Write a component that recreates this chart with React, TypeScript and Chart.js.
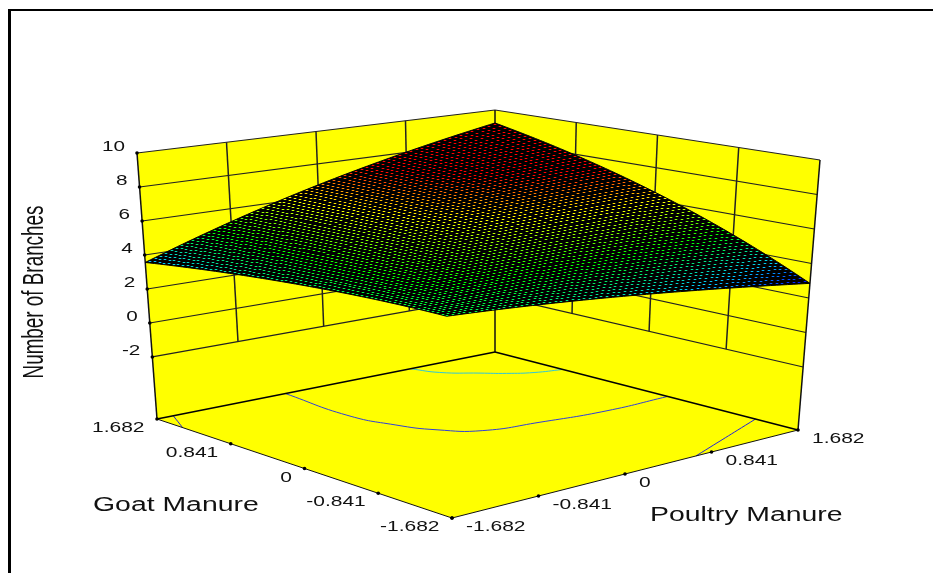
import React, { useEffect, useRef } from "react";
import { Chart, registerables } from "chart.js";

Chart.register(...registerables);

// ---- data ----
const codedTicks = [-1.682, -0.841, 0, 0.841, 1.682];
const codedTickLabels = ["-1.682", "-0.841", "0", "0.841", "1.682"];
const zTicks = [-2, 0, 2, 4, 6, 8, 10];
const zMin = -5.65;
const zMax = 10;

// response values: rows = Goat Manure (-1.682 .. 1.682), columns = Poultry Manure (-1.682 .. 1.682)
const branchesG0 = [4.6, 4.37, 4.0, 3.49, 2.85];
const branchesG1 = [4.59, 4.99, 5.16, 5.1, 4.8];
const branchesG2 = [4.41, 5.34, 6.0, 6.39, 6.5];
const branchesG3 = [4.07, 5.42, 6.52, 7.36, 7.95];
const branchesG4 = [3.56, 5.22, 6.71, 8.02, 9.16];
const branches = [branchesG0, branchesG1, branchesG2, branchesG3, branchesG4];

// floor contours as [goat, poultry]
const contourLeft = [[1.682, -1.52], [1.39, -1.682]];
const contourRight = [[-1.21, 1.682], [-1.682, 0.69]];
const contourMid: number[][] = [
  [1.682, -0.404], [0.925, -0.459], [0.491, -0.363], [0.185, -0.217], [-0.054, 0.025], [-0.155, 0.498], [-0.242, 1.08], [-0.235, 1.682],
];
const contourBack: number[][] = [
  [1.682, 0.84], [1.457, 0.932], [1.25, 1.147], [1.114, 1.29], [1.0, 1.46], [0.929, 1.682],
];

const colorStopZ = [2.85, 3.7, 4.9, 6.2, 7.4];
const colorStopRGB = [[0, 0, 255], [0, 200, 255], [0, 255, 0], [255, 255, 0], [255, 0, 0]];

// ---- 3D box seen by the camera (plot units of the hidden linear scales) ----
const floorFront = [452, 518];
const floorLeft = [157, 419];
const floorRight = [798, 430];
const floorBack = [495, 352];
const topFront = [444, 210];
const topLeft = [137, 153];
const topRight = [820, 160];
const topBack = [495, 110];

const unit = (c: number) => (c + 1.682) / 3.364;
const mix = (p00: number[], p10: number[], p01: number[], p11: number[], a: number, b: number, k: number) =>
  p00[k] * (1 - a) * (1 - b) + p10[k] * a * (1 - b) + p01[k] * (1 - a) * b + p11[k] * a * b;

function project(goat: number, poultry: number, z: number) {
  const a = unit(goat);
  const b = unit(poultry);
  const t = (z - zMin) / (zMax - zMin);
  const f = [0, 1].map((k) => mix(floorFront, floorLeft, floorRight, floorBack, a, b, k));
  const u = [0, 1].map((k) => mix(topFront, topLeft, topRight, topBack, a, b, k));
  return { x: f[0] + (u[0] - f[0]) * t, y: f[1] + (u[1] - f[1]) * t };
}

function lagrange(values: number[], c: number) {
  let s = 0;
  for (let i = 0; i < 5; i++) {
    let w = 1;
    for (let j = 0; j < 5; j++) if (j !== i) w *= (c - codedTicks[j]) / (codedTicks[i] - codedTicks[j]);
    s += w * values[i];
  }
  return s;
}
const surfaceZ = (g: number, p: number) => lagrange(branches.map((row) => lagrange(row, p)), g);

function rgbFor(z: number) {
  const s = colorStopZ;
  if (z <= s[0]) return colorStopRGB[0];
  for (let i = 1; i < s.length; i++) {
    if (z <= s[i]) {
      const f = (z - s[i - 1]) / (s[i] - s[i - 1]);
      return colorStopRGB[i - 1].map((v, k) => Math.round(v + (colorStopRGB[i][k] - v) * f));
    }
  }
  return colorStopRGB[4];
}

const MESH = 64;
const C0 = codedTicks[0];
const C4 = codedTicks[4];
const meshCoord = (i: number) => C0 + ((C4 - C0) * i) / MESH;

function buildDatasets() {
  const yellow = "#ffff00";
  const ds: any[] = [];
  const poly = (pts: { x: number; y: number }[], fill: string, line = "#000", w = 0) =>
    ds.push({
      data: [...pts, pts[0]],
      fill: "shape",
      backgroundColor: fill,
      borderColor: line,
      borderWidth: w,
      pointRadius: 0,
      showLine: true,
      tension: 0,
      clip: false,
    });
  const line = (pts: { x: number; y: number }[], w = 1, color = "#222") =>
    ds.push({
      data: pts,
      borderColor: color,
      borderWidth: w,
      pointRadius: 0,
      showLine: true,
      fill: false,
      tension: 0,
      clip: false,
    });

  // frame of the picture
  line([{ x: 933, y: 10 }, { x: 8, y: 10 }], 2, "#000");
  line([{ x: 9.5, y: 9 }, { x: 9.5, y: 573 }], 3, "#000");

  // walls and floor
  const g0 = C0;
  const g1 = C4;
  poly([project(g1, C0, zMin), project(g1, C4, zMin), project(g1, C4, zMax), project(g1, C0, zMax)], yellow);
  poly([project(g0, C4, zMin), project(g1, C4, zMin), project(g1, C4, zMax), project(g0, C4, zMax)], yellow);
  poly([project(g0, C0, zMin), project(g1, C0, zMin), project(g1, C4, zMin), project(g0, C4, zMin)], yellow);

  // wall grid
  for (const z of zTicks) {
    line([project(g1, C0, z), project(g1, C4, z)], 1.2, "#222");
    line([project(g0, C4, z), project(g1, C4, z)], 1.2, "#222");
  }
  for (const c of codedTicks.slice(1, 4)) {
    line([project(g1, c, -2), project(g1, c, 10)], 1.5, "#222");
    line([project(c, C4, -2), project(c, C4, 10)], 1.5, "#222");
  }
  // floor contours
  const contour = (arr: number[][], color: string) =>
    ds.push({
      data: arr.map(([g, p]) => project(g, p, zMin)),
      borderColor: color,
      borderWidth: 1,
      pointRadius: 0,
      showLine: true,
      fill: false,
      tension: 0.5,
      clip: false,
    });
  contour(contourLeft, "#2222dd");
  contour(contourRight, "#2222dd");
  contour(contourMid, "#3040d8");
  contour(contourBack, "#30c8d8");

  // box edges
  line([project(g1, C0, zMin), project(g1, C0, zMax)], 1.5, "#111");
  line([project(g0, C4, zMin), project(g0, C4, zMax)], 1.5, "#111");
  line([project(g1, C4, zMin), project(g1, C4, zMax)], 1.5, "#111");
  line([project(g1, C0, zMin), project(g1, C4, zMin)], 1.6, "#000");
  line([project(g0, C4, zMin), project(g1, C4, zMin)], 1.6, "#000");
  line([project(g1, C0, zMin), project(g0, C0, zMin)], 1, "#111");
  line([project(g0, C0, zMin), project(g0, C4, zMin)], 1, "#111");

  // response surface: dark body
  const edge: { x: number; y: number }[] = [];
  for (let i = 0; i <= MESH; i++) edge.push(project(meshCoord(i), C0, surfaceZ(meshCoord(i), C0)));
  for (let i = 0; i <= MESH; i++) edge.push(project(C4, meshCoord(i), surfaceZ(C4, meshCoord(i))));
  for (let i = MESH; i >= 0; i--) edge.push(project(meshCoord(i), C4, surfaceZ(meshCoord(i), C4)));
  for (let i = MESH; i >= 0; i--) edge.push(project(C0, meshCoord(i), surfaceZ(C0, meshCoord(i))));
  poly(edge, "#000", "#000", 1);

  // coloured facets: a dim tint under a bright core
  const pts: { x: number; y: number }[] = [];
  const cols: string[] = [];
  const tints: string[] = [];
  for (let i = 0; i < MESH; i++) {
    for (let j = 0; j < MESH; j++) {
      const g = meshCoord(i + 0.5);
      const p = meshCoord(j + 0.5);
      const z = surfaceZ(g, p);
      const q = project(g, p, z);
      pts.push({ x: Math.round(q.x), y: Math.floor(q.y) + 0.5 });
      const c = rgbFor(z).join(",");
      cols.push(`rgb(${c})`);
      // dim tint stays inside the facet: black mixed with the colour
      const dim = rgbFor(z).map((v) => Math.round(v * 0.3)).join(",");
      tints.push(`rgb(${dim})`);
    }
  }
  ds.push({
    data: pts,
    showLine: false,
    pointStyle: "line",
    pointRadius: 2,
    pointBorderWidth: 1,
    pointBorderColor: tints,
    pointBackgroundColor: tints,
    clip: false,
  });
  ds.push({
    data: pts,
    showLine: false,
    pointStyle: "line",
    pointRadius: 1,
    pointBorderWidth: 1,
    pointBorderColor: cols,
    pointBackgroundColor: cols,
    clip: false,
  });

  // axis tick marks
  const tickPts = [
    ...codedTicks.map((c) => project(c, C0, zMin)),
    ...codedTicks.map((c) => project(C0, c, zMin)),
    ...zTicks.map((z) => project(C4, C0, z)),
  ];
  ds.push({
    data: tickPts,
    showLine: false,
    pointStyle: "circle",
    pointRadius: 1.8,
    pointBackgroundColor: "#000",
    pointBorderWidth: 0,
    clip: false,
  });
  // Chart.js paints the first dataset last
  return ds.reverse();
}

const labelFont = "Liberation Sans, Arial, sans-serif";

function stretched(ctx: CanvasRenderingContext2D, text: string, x: number, y: number, size: number, sx: number, align: CanvasTextAlign, rot = 0, sy = 1) {
  ctx.save();
  ctx.translate(x, y);
  if (rot) ctx.rotate(rot);
  ctx.scale(sx, sy);
  ctx.font = `${size}px ${labelFont}`;
  ctx.textAlign = align;
  ctx.textBaseline = "middle";
  ctx.fillStyle = "#111";
  ctx.fillText(text, 0, 0);
  ctx.restore();
}

const labelsPlugin = {
  id: "axisText",
  afterDraw(chart: any) {
    const { ctx, scales } = chart;
    const X = (v: number) => scales.x.getPixelForValue(v);
    const Y = (v: number) => scales.y.getPixelForValue(v);
    zTicks.forEach((z) => {
      const q = project(C4, C0, z);
      stretched(ctx, String(z), X(q.x - 12), Y(q.y - 6), 15, 1.38, "right");
    });
    codedTicks.forEach((c, i) => {
      const a = project(c, C0, zMin);
      stretched(ctx, codedTickLabels[i], X(a.x - 12.5), Y(a.y + 9), 15, 1.4, "right");
      const b = project(C0, c, zMin);
      stretched(ctx, codedTickLabels[i], X(b.x + 14), Y(b.y + 9), 15, 1.4, "left");
    });
    stretched(ctx, "Goat Manure", X(93), Y(505), 20, 1.42, "left");
    stretched(ctx, "Poultry Manure", X(650), Y(515), 20, 1.42, "left");
    stretched(ctx, "Number of Branches", X(35), Y(292), 29, 0.65, "center", -Math.PI / 2);
  },
};

export default function App() {
  const ref = useRef<HTMLCanvasElement | null>(null);
  useEffect(() => {
    const chart = new Chart(ref.current as HTMLCanvasElement, {
      type: "scatter",
      data: { datasets: buildDatasets() },
      options: {
        animation: false,
        responsive: false,
        layout: { padding: 0, autoPadding: false },
        plugins: { legend: { display: false }, tooltip: { enabled: false }, title: { display: false } },
        scales: {
          x: { type: "linear", min: 0, max: 933, display: false },
          y: { type: "linear", min: 0, max: 573, reverse: true, display: false },
        },
      },
      plugins: [labelsPlugin],
    } as any);
    return () => chart.destroy();
  }, []);
  return (
    <div style={{ position: "fixed", left: 0, top: 0, width: 933, height: 573, background: "#fff", overflow: "hidden" }}>
      <canvas ref={ref} width={933} height={573} style={{ display: "block" }} />
    </div>
  );
}
